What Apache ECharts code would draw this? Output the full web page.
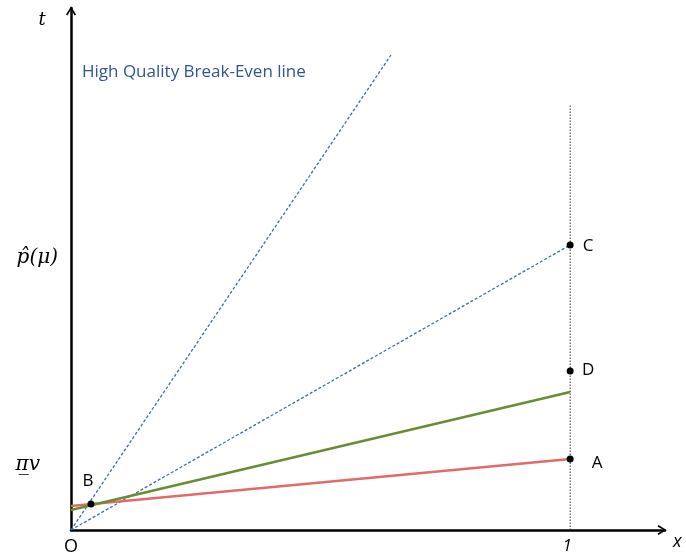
<!DOCTYPE html>
<html>
<head>
<meta charset="utf-8">
<script src="https://cdn.jsdelivr.net/npm/echarts@6/dist/echarts.min.js"></script>
<style>
  html, body { margin: 0; padding: 0; background: #fff; }
  #chart { width: 686px; height: 558px; }
</style>
</head>
<body>
<div id="chart"></div>
<script>
// Break-even diagram: quality threshold lines in the (x, t) plane
const steepLine     = [[0, 0], [0.641, 0.95]];   // high quality break-even line
const breakEvenLine = [[0, 0], [1, 0.57]];       // O to C
const greenLine     = [[0, 0.04], [1, 0.276]];
const redLine       = [[0, 0.048], [1, 0.142]];
const verticalLine  = [[1, 0], [1, 0.85]];       // x = 1

const pointNames  = ['B', 'C', 'D', 'A'];
const pointValues = [[0.04, 0.052], [1, 0.57], [1, 0.318], [1, 0.142]];

const xTickValues = [0, 1];
const xTickLabels = ['O', '1'];
const yTickValues = [0.13, 0.545];
const yTickLabels = ['π̲v', 'p̂(μ)'];

const lineTitle = 'High Quality Break-Even line';

const chevron = 'path://M0,80 L50,0 L100,80 L86,90 L50,30 L14,90 Z';

const labelOffsets = {
  B: [-3, -23],
  C: [18, 1],
  D: [18, -1],
  A: [27, 4]
};

const chart = echarts.init(document.getElementById('chart'), null, { renderer: 'canvas' });

chart.setOption({
  animation: false,
  backgroundColor: '#ffffff',
  title: {
    text: lineTitle,
    left: 77,
    top: 59,
    textStyle: {
      color: '#2f5597',
      fontFamily: 'Open Sans',
      fontSize: 17,
      fontWeight: 'normal'
    }
  },
  grid: { left: 71, right: 21, top: 8, bottom: 28 },
  xAxis: {
    type: 'value',
    min: 0,
    max: 1.19,
    splitLine: { show: false },
    axisTick: { show: false },
    axisLine: {
      onZero: false,
      lineStyle: { color: '#000', width: 2.5 },
      symbol: ['none', chevron],
      symbolSize: [11, 9],
      symbolOffset: [0, -3]
    },
    axisLabel: {
      customValues: xTickValues,
      margin: 8,
      formatter: function (v) {
        const i = xTickValues.indexOf(v);
        return i === 0 ? '{o|' + xTickLabels[i] + '}' : '{n|' + xTickLabels[i] + '}';
      },
      rich: {
        o: { fontFamily: 'Open Sans', fontSize: 18, color: '#000' },
        n: { fontFamily: 'Open Sans', fontStyle: 'italic', fontSize: 17, color: '#000', padding: [0, 6, 0, 0] }
      }
    },
    name: 'x',
    nameLocation: 'end',
    nameGap: 8,
    nameTextStyle: {
      fontFamily: 'Open Sans',
      fontStyle: 'italic',
      fontSize: 18,
      color: '#000',
      verticalAlign: 'top',
      padding: [3, 0, 0, 0]
    }
  },
  yAxis: {
    type: 'value',
    min: 0,
    max: 1.044,
    splitLine: { show: false },
    axisTick: { show: false },
    axisLine: {
      onZero: false,
      lineStyle: { color: '#000', width: 2.5 },
      symbol: ['none', chevron],
      symbolSize: [11, 9],
      symbolOffset: [0, -3]
    },
    axisLabel: {
      customValues: yTickValues,
      margin: 13,
      formatter: function (v) {
        const i = yTickValues.indexOf(v);
        return i === 0 ? '{u|' + yTickLabels[i] + '}' : '{p|' + yTickLabels[i] + '}';
      },
      rich: {
        u: { fontFamily: 'DejaVu Serif', fontStyle: 'italic', fontSize: 20, color: '#000', padding: [0, 18, 0, 0] },
        p: { fontFamily: 'DejaVu Serif', fontStyle: 'italic', fontSize: 20, color: '#000' }
      }
    },
    name: 't',
    nameLocation: 'end',
    nameGap: -12,
    nameTextStyle: {
      fontFamily: 'DejaVu Serif',
      fontStyle: 'italic',
      fontSize: 18,
      color: '#000',
      align: 'center',
      verticalAlign: 'middle',
      padding: [0, 58, 0, 0]
    }
  },
  series: [
    {
      type: 'line',
      data: verticalLine,
      symbol: 'none',
      lineStyle: { color: '#333', width: 1, type: [1.5, 1.5] },
      z: 1
    },
    {
      type: 'line',
      data: steepLine,
      symbol: 'none',
      lineStyle: { color: '#3b6db3', width: 1.3, type: [3, 2] },
      z: 2
    },
    {
      type: 'line',
      data: breakEvenLine,
      symbol: 'none',
      lineStyle: { color: '#3b6db3', width: 1.3, type: [3, 2] },
      z: 2
    },
    {
      type: 'line',
      data: redLine,
      symbol: 'none',
      lineStyle: { color: '#e06b68', width: 2.5 },
      z: 3
    },
    {
      type: 'line',
      data: greenLine,
      symbol: 'none',
      lineStyle: { color: '#6a8c32', width: 2.5 },
      z: 4
    },
    {
      type: 'scatter',
      data: pointValues.map(function (p, i) { return { name: pointNames[i], value: p }; }),
      symbol: 'circle',
      symbolSize: 7,
      itemStyle: { color: '#000', opacity: 1 },
      z: 5,
      label: {
        show: true,
        position: 'inside',
        formatter: '{b}',
        color: '#000',
        fontFamily: 'Open Sans',
        fontSize: 17
      },
      labelLayout: function (params) {
        const name = pointNames[params.dataIndex];
        const off = labelOffsets[name];
        return { dx: off[0], dy: off[1] };
      }
    }
  ]
});
</script>
</body>
</html>
